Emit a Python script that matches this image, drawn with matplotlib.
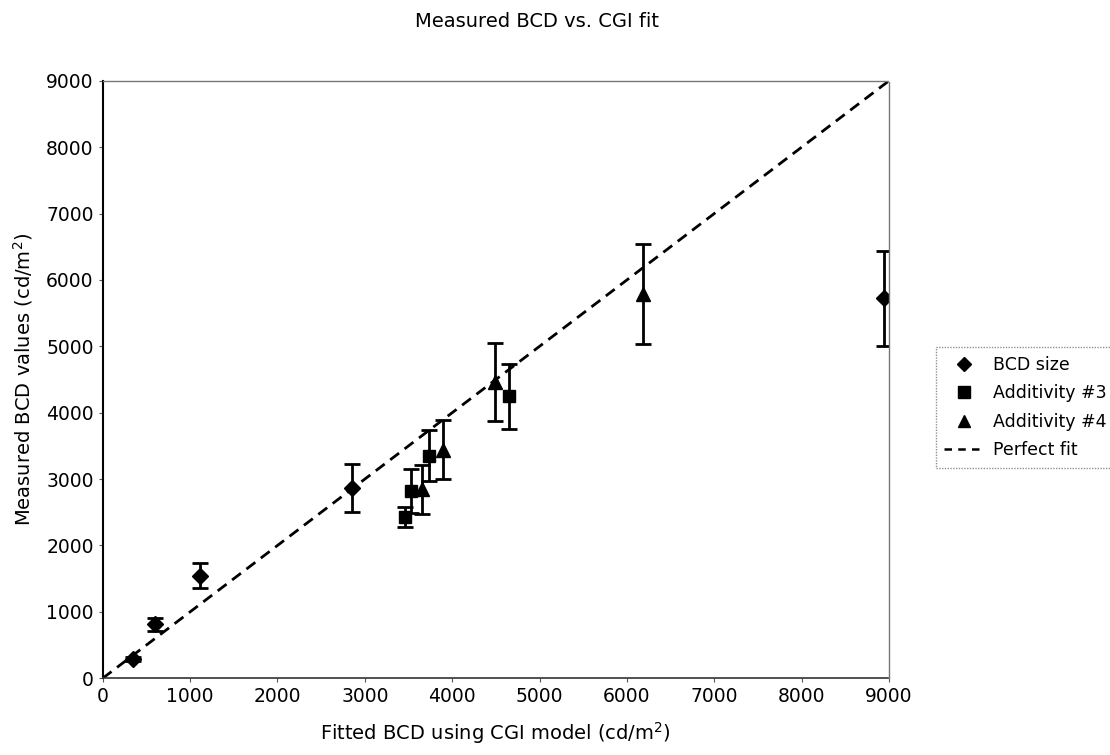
import matplotlib
matplotlib.use('Agg')
import matplotlib.pyplot as plt
from matplotlib.lines import Line2D

# BCD size (diamonds)
bcd_x = [350, 600, 1110, 2850, 8940]
bcd_y = [290, 815, 1545, 2865, 5720]
bcd_err = [30, 100, 190, 360, 720]

# Additivity #3 (squares)
add3_x = [3465, 3525, 3735, 4650]
add3_y = [2430, 2825, 3355, 4245]
add3_err = [150, 330, 385, 490]

# Additivity #4 (triangles)
add4_x = [3650, 3890, 4495, 6180]
add4_y = [2845, 3445, 4460, 5790]
add4_err = [370, 450, 590, 750]

fit_line = [0, 9000]
ticks = [0, 1000, 2000, 3000, 4000, 5000, 6000, 7000, 8000, 9000]

plt.rcParams['font.family'] = ['DejaVu Sans']

fig = plt.figure(figsize=(11.1, 7.55), dpi=100)
ax = fig.add_axes([0.0925, 0.1016, 0.7085, 0.7915])

ebkw = dict(color='black', ecolor='black', elinewidth=2, capsize=6, capthick=2, linestyle='none')
ax.errorbar(bcd_x, bcd_y, yerr=bcd_err, marker='D', markersize=8.5, **ebkw)
ax.errorbar(add3_x, add3_y, yerr=add3_err, marker='s', markersize=9, **ebkw)
ax.errorbar(add4_x, add4_y, yerr=add4_err, marker='^', markersize=10, **ebkw)
ax.plot(fit_line, fit_line, color='black', linestyle=(0, (4, 2.5)), linewidth=2)

ax.set_xlim(0, 9000)
ax.set_ylim(0, 9000)
ax.set_xticks(ticks)
ax.set_yticks(ticks)
ax.tick_params(labelsize=13.5, length=3, width=0.8, color='#555555')

ax.spines['left'].set_linewidth(1.5)
ax.spines['left'].set_color('black')
for s in ['top', 'right']:
    ax.spines[s].set_linestyle((0, (1, 1)))
    ax.spines[s].set_color('#777777')
    ax.spines[s].set_linewidth(1)
ax.spines['bottom'].set_linestyle((0, (3, 1)))
ax.spines['bottom'].set_color('#333333')
ax.spines['bottom'].set_linewidth(1.2)

ax.set_xlabel('Fitted BCD using CGI model (cd/m$^2$)', fontsize=14, labelpad=10)
ax.set_ylabel('Measured BCD values (cd/m$^2$)', fontsize=14, labelpad=8)

fig.text(0.484, 0.972, 'Measured BCD vs. CGI fit', ha='center', va='center', fontsize=14)

handles = [
    Line2D([], [], color='black', marker='D', markersize=7, linestyle='none'),
    Line2D([], [], color='black', marker='s', markersize=8, linestyle='none'),
    Line2D([], [], color='black', marker='^', markersize=9, linestyle='none'),
    Line2D([], [], color='black', linestyle=(0, (3, 2.5)), linewidth=1.8),
]
labels = ['BCD size', 'Additivity #3', 'Additivity #4', 'Perfect fit']
leg = fig.legend(handles, labels, loc='upper left', bbox_to_anchor=(0.843, 0.54),
                 borderaxespad=0, fontsize=12.5, frameon=True, fancybox=False,
                 handlelength=2.3, handletextpad=0.5, borderpad=0.5, labelspacing=0.6)
leg.get_frame().set_edgecolor('#777777')
leg.get_frame().set_linestyle((0, (1, 1)))
leg.get_frame().set_linewidth(1)

fig.savefig('out.png', dpi=100)
